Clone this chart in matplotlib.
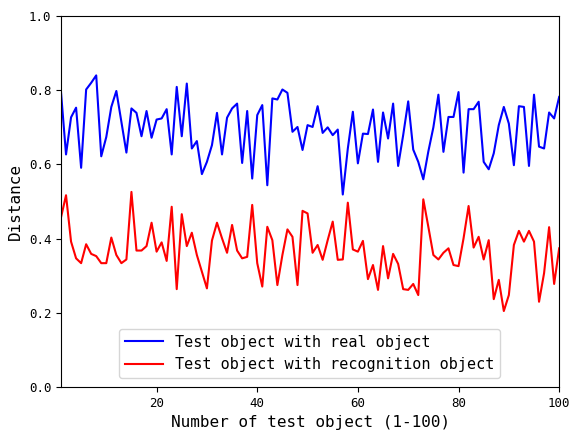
import numpy as np
import matplotlib
matplotlib.use("Agg")
import matplotlib.pyplot as plt

plt.rcParams['font.family'] = ['DejaVu Sans Mono']

# 测试对象编号 1-100
test_num = np.arange(1, 101)

real_dist = [0.795, 0.627, 0.727, 0.753, 0.591, 0.802, 0.820, 0.840, 0.622, 0.674,
             0.755, 0.798, 0.715, 0.632, 0.751, 0.739, 0.676, 0.744, 0.672, 0.721,
             0.724, 0.749, 0.627, 0.809, 0.676, 0.818, 0.643, 0.663, 0.574, 0.607,
             0.652, 0.739, 0.627, 0.726, 0.751, 0.764, 0.604, 0.744, 0.562, 0.733,
             0.760, 0.544, 0.778, 0.775, 0.802, 0.793, 0.688, 0.701, 0.639, 0.706,
             0.701, 0.757, 0.685, 0.700, 0.679, 0.694, 0.519, 0.643, 0.742, 0.603,
             0.683, 0.682, 0.748, 0.607, 0.740, 0.670, 0.764, 0.596, 0.679, 0.770,
             0.640, 0.607, 0.560, 0.635, 0.700, 0.788, 0.634, 0.728, 0.728, 0.795,
             0.578, 0.749, 0.749, 0.769, 0.607, 0.587, 0.630, 0.706, 0.755, 0.710,
             0.598, 0.757, 0.755, 0.596, 0.788, 0.648, 0.643, 0.740, 0.724, 0.782]

recog_dist = [0.457, 0.517, 0.392, 0.347, 0.334, 0.385, 0.359, 0.353, 0.334, 0.334,
              0.403, 0.356, 0.334, 0.344, 0.526, 0.368, 0.368, 0.380, 0.443, 0.365,
              0.390, 0.340, 0.486, 0.264, 0.466, 0.380, 0.416, 0.356, 0.311, 0.266,
              0.395, 0.443, 0.401, 0.362, 0.437, 0.368, 0.347, 0.351, 0.491, 0.334,
              0.271, 0.432, 0.396, 0.275, 0.356, 0.425, 0.405, 0.275, 0.475, 0.468,
              0.362, 0.383, 0.343, 0.396, 0.446, 0.343, 0.344, 0.497, 0.371, 0.365,
              0.394, 0.291, 0.329, 0.262, 0.380, 0.293, 0.359, 0.332, 0.264, 0.262,
              0.278, 0.248, 0.506, 0.432, 0.356, 0.344, 0.362, 0.374, 0.329, 0.326,
              0.401, 0.488, 0.376, 0.405, 0.344, 0.396, 0.237, 0.289, 0.205, 0.248,
              0.383, 0.421, 0.392, 0.421, 0.392, 0.230, 0.307, 0.431, 0.278, 0.374]

labels = ['Test object with real object', 'Test object with recognition object']

fig = plt.figure(figsize=(5.7, 4.33), dpi=100)
ax = fig.add_axes([0.107, 0.106, 0.874, 0.857])

ax.plot(test_num, real_dist, color='#0000ff', linewidth=1.5, label=labels[0])
ax.plot(test_num, recog_dist, color='#ff0000', linewidth=1.5, label=labels[1])

ax.set_xlim(1, 100)
ax.set_ylim(0, 1.0)
ax.set_xticks([20, 40, 60, 80, 100])
ax.set_yticks([0.0, 0.2, 0.4, 0.6, 0.8, 1.0])
ax.tick_params(labelsize=9)
ax.set_xlabel('Number of test object (1-100)', fontsize=11.5)
ax.set_ylabel('Distance', fontsize=11.5)

ax.legend(loc='lower left', bbox_to_anchor=(0.116, 0.024), fontsize=10.9,
          handlelength=2.5, borderaxespad=0)

fig.savefig('out.png', dpi=100)
